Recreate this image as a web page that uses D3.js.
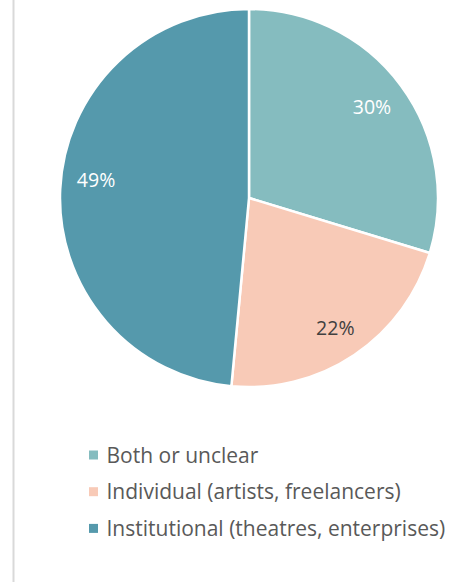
<!DOCTYPE html>
<html>
<head>
<meta charset="utf-8">
<script src="https://cdn.jsdelivr.net/npm/d3@7"></script>
<style>
  html, body { margin: 0; padding: 0; background: #ffffff; }
  svg { display: block; }
</style>
</head>
<body>
<svg id="chart" width="467" height="582"></svg>
<script>
// Share of productions by type of producer
const categories = ["Both or unclear", "Individual (artists, freelancers)", "Institutional (theatres, enterprises)"];
const shares = [30, 22, 49];
const sliceColors = ["#85bcbf", "#f8cab7", "#5599ac"];
const labelColors = ["#ffffff", "#404040", "#ffffff"];

const width = 467, height = 582;
const cx = 249, cy = 198, radius = 189;
const fontFamily = "'Open Sans', sans-serif";

const svg = d3.select("#chart");

// thin frame line on the left side
svg.append("line")
  .attr("x1", 13.5).attr("x2", 13.5)
  .attr("y1", 0).attr("y2", height)
  .attr("stroke", "#d9d9d9")
  .attr("stroke-width", 2);

const pie = d3.pie().sort(null).value(d => d);
const arcs = pie(shares);
const arc = d3.arc().innerRadius(0).outerRadius(radius);
const labelArc = d3.arc().innerRadius(radius * 0.81).outerRadius(radius * 0.81);
// fine placement nudges for the percentage labels
const labelNudge = [[0, 0], [1, 3], [0, -11]];

const g = svg.append("g").attr("transform", `translate(${cx},${cy})`);

g.selectAll("path.slice")
  .data(arcs)
  .join("path")
  .attr("class", "slice")
  .attr("d", arc)
  .attr("fill", (d, i) => sliceColors[i])
  .attr("stroke", "#ffffff")
  .attr("stroke-width", 2.5)
  .attr("stroke-linejoin", "round");

g.selectAll("text.pct")
  .data(arcs)
  .join("text")
  .attr("class", "pct")
  .attr("transform", (d, i) => {
    const [x, y] = labelArc.centroid(d);
    return `translate(${x + labelNudge[i][0]},${y + labelNudge[i][1]})`;
  })
  .attr("text-anchor", "middle")
  .attr("dy", "0.36em")
  .attr("font-family", fontFamily)
  .attr("font-size", 19.5)
  .attr("fill", (d, i) => labelColors[i])
  .text(d => d.data + "%");

// legend
const legend = svg.append("g").attr("transform", "translate(89,455)");
const rowStep = 36.7;
const rows = legend.selectAll("g.item")
  .data(categories)
  .join("g")
  .attr("class", "item")
  .attr("transform", (d, i) => `translate(0,${i * rowStep})`);

rows.append("rect")
  .attr("x", 0).attr("y", -4.5)
  .attr("width", 9).attr("height", 9)
  .attr("fill", (d, i) => sliceColors[i]);

rows.append("text")
  .attr("x", 17.5)
  .attr("y", 7.5)
  .attr("font-family", fontFamily)
  .attr("font-size", 21)
  .attr("fill", "#595959")
  .text(d => d);
</script>
</body>
</html>
